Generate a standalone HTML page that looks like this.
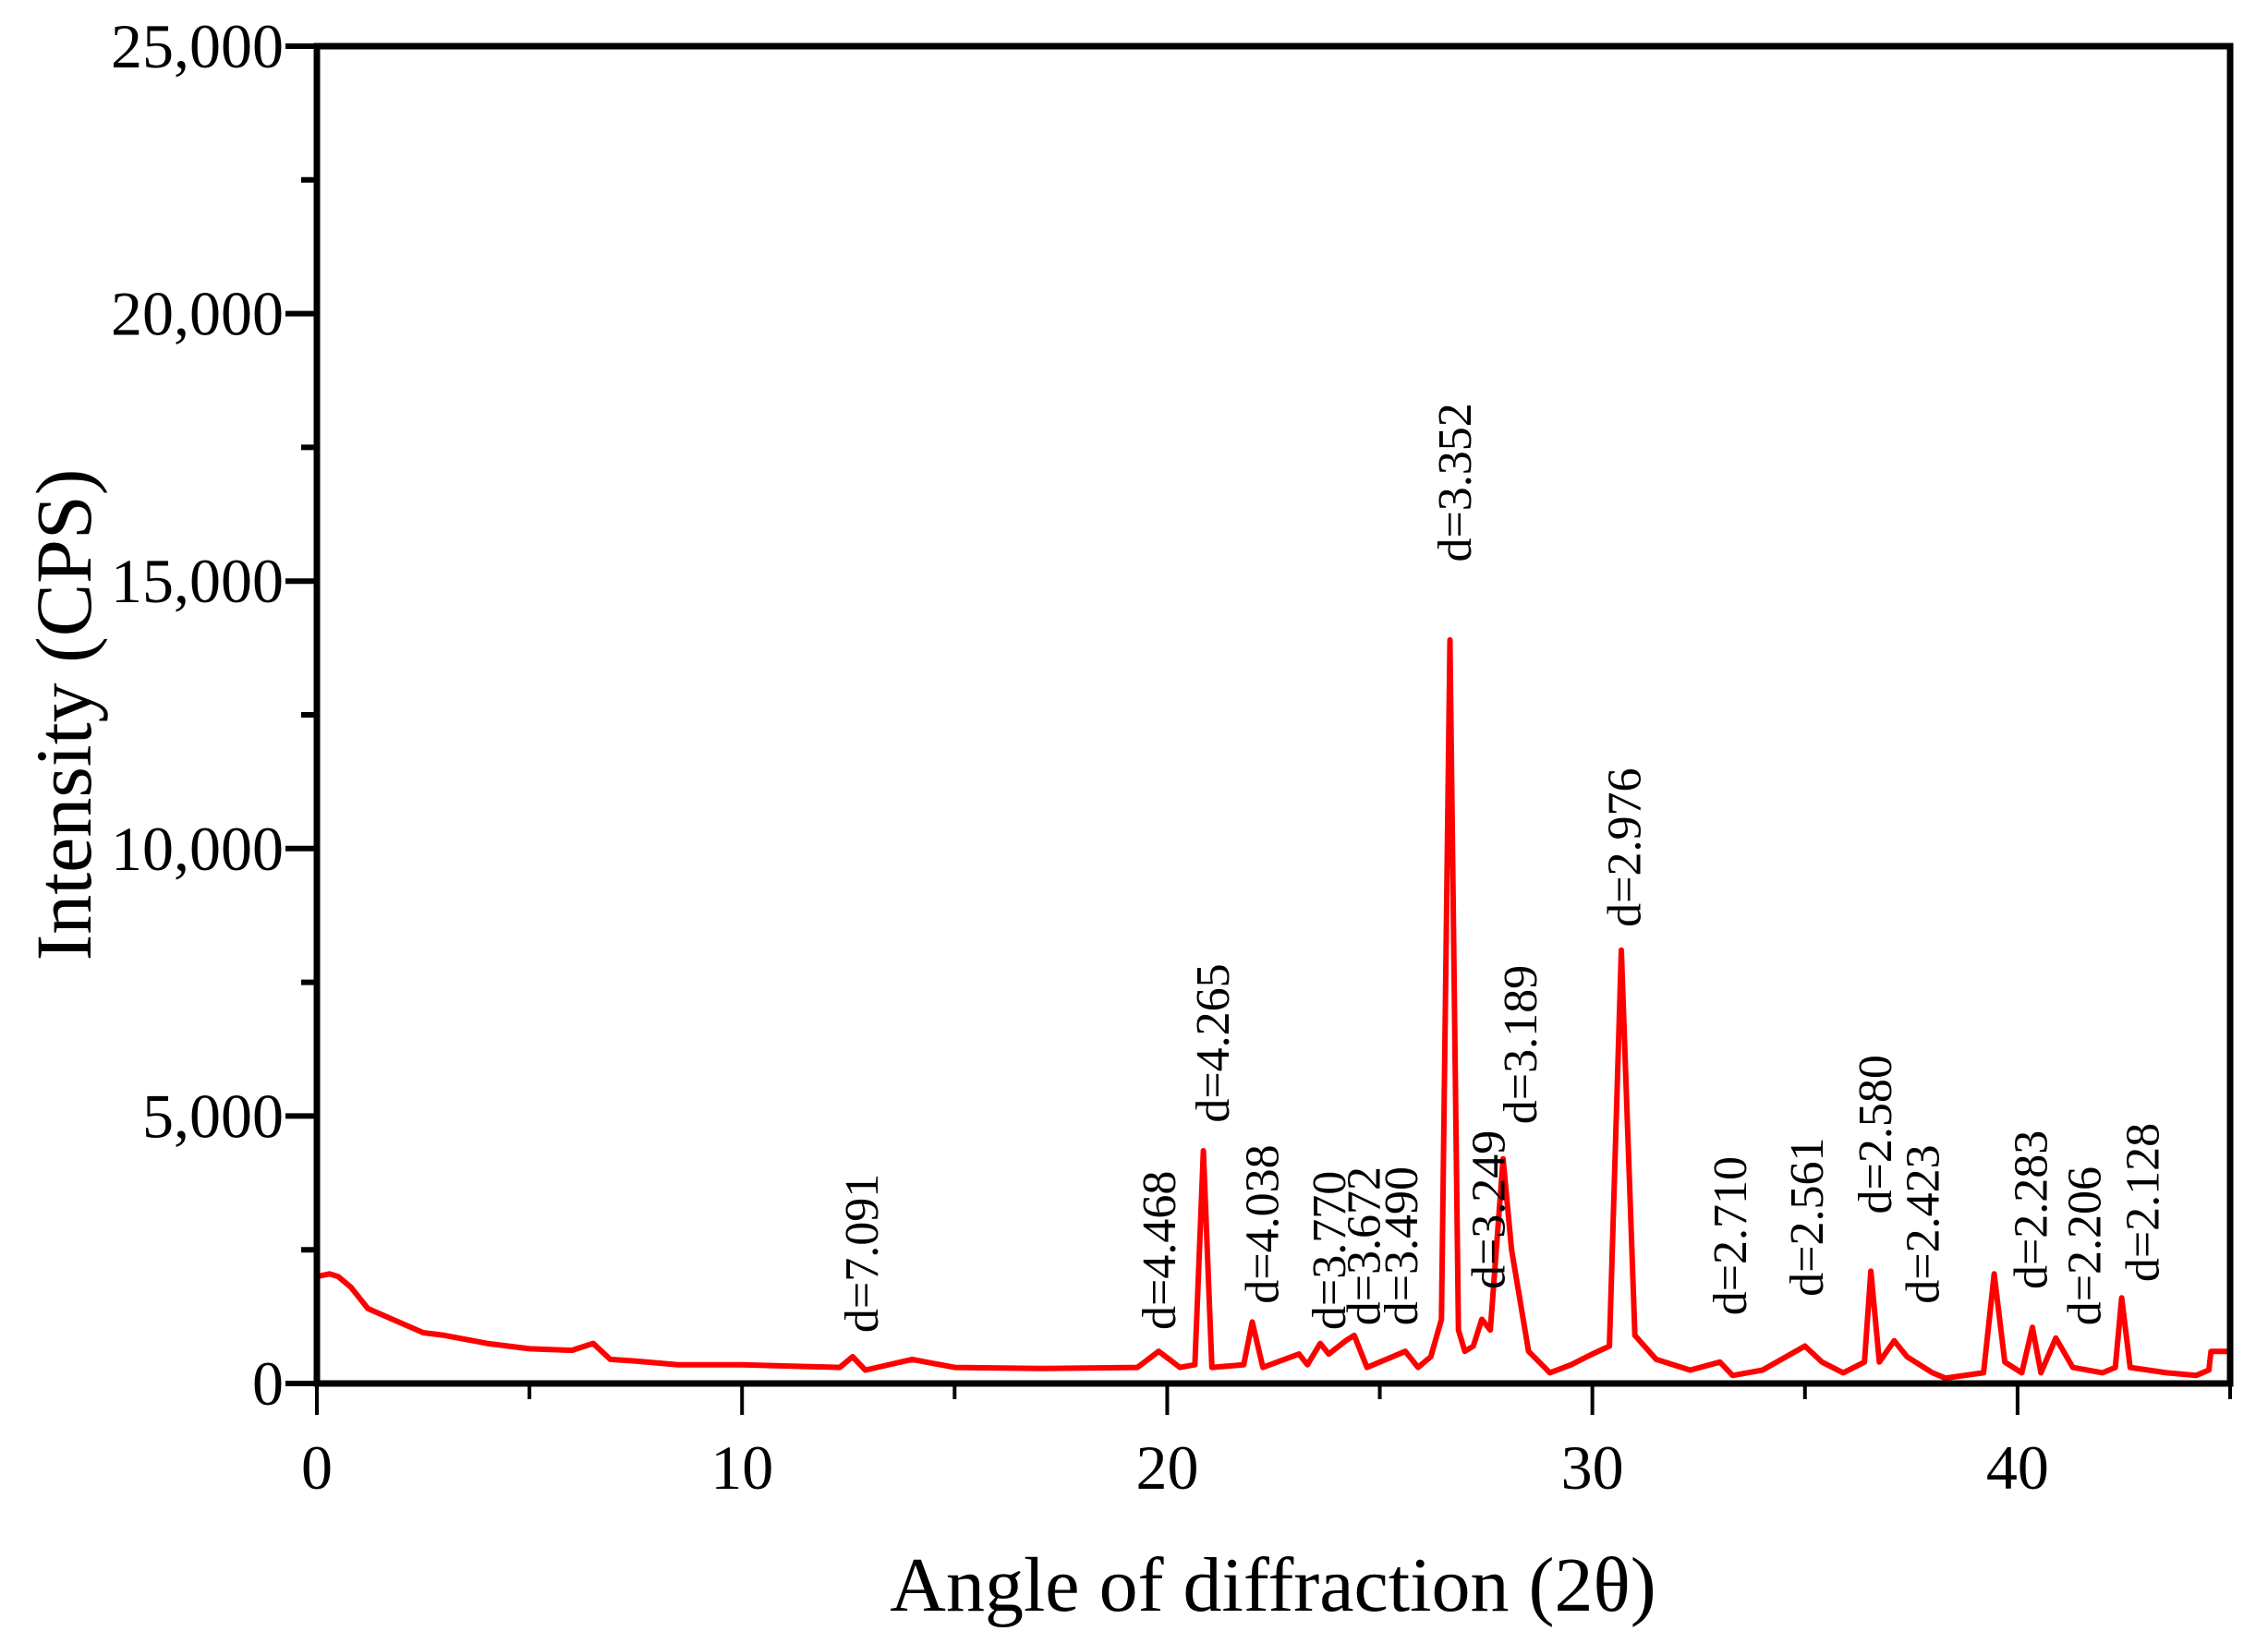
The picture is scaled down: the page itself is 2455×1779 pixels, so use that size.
<!DOCTYPE html>
<html><head><meta charset="utf-8"><style>
html,body{margin:0;padding:0;background:#fff;}
svg{display:block;font-family:"Liberation Serif",serif;}
</style></head><body>
<svg id="chart" width="2455" height="1779" viewBox="0 0 2455 1779" xmlns="http://www.w3.org/2000/svg">
</svg>
<script>
const angles = [0,0.3,0.5,0.8,1.2,2.5,3,4,5,6,6.5,6.9,7.5,8.5,10,12.3,12.6,12.9,14,15,17,19.3,19.8,20.3,20.65,20.85,21.05,21.8,22,22.25,23.1,23.3,23.6,23.8,24.2,24.4,24.7,25.6,25.9,26.2,26.45,26.65,26.85,27.0,27.2,27.4,27.6,27.9,28.1,28.5,29,29.5,30,30.4,30.68,31,31.5,32.3,33,33.3,34,35,35.4,35.9,36.4,36.55,36.75,37.1,37.4,38,38.3,39.2,39.45,39.7,40.1,40.35,40.55,40.9,41.3,42,42.3,42.45,42.65,43.5,44.2,44.5,44.55,45];
const intensities = [2000,2050,2000,1800,1400,950,900,750,650,620,750,450,420,350,350,300,500,250,450,300,280,300,600,300,350,4350,300,350,1150,300,550,350,750,550,800,900,300,600,300,500,1200,13900,1000,600,700,1200,1000,4200,2500,600,200,350,550,700,8100,900,450,250,400,150,250,700,400,200,400,2100,400,800,500,200,100,200,2050,400,200,1050,200,850,300,200,300,1600,300,200,150,250,600,600];
const labelTexts = ["d=7.091","d=4.468","d=4.265","d=4.038","d=3.770","d=3.672","d=3.490","d=3.352","d=3.249","d=3.189","d=2.976","d=2.710","d=2.561","d=2.580","d=2.423","d=2.283","d=2.206","d=2.128"];
const labelAngles = [12.80,19.79,21.06,22.22,23.79,24.61,25.49,26.75,27.54,28.29,30.74,33.22,35.03,36.63,37.75,40.30,41.56,42.92];
const labelIntensities = [948,1002,4875,1490,1000,1083,1083,15357,1760,4848,8532,1273,1625,3169,1490,1760,1083,1896];
const yTicks = [0,5000,10000,15000,20000,25000];
const yTickLabels = ["0","5,000","10,000","15,000","20,000","25,000"];
const xTicks = [0,10,20,30,40];
const xTickLabels = ["0","10","20","30","40"];

const L=343,R=2414,T=50,B=1498;
const xs=a=>L+(a/45)*(R-L);
const ys=v=>B-(v/25000)*(B-T);
const NS="http://www.w3.org/2000/svg";
const svg=document.getElementById('chart');
function mk(tag,attrs,parent){const e=document.createElementNS(NS,tag);for(const k in attrs)e.setAttribute(k,attrs[k]);(parent||svg).appendChild(e);return e;}

let d='';
for(let i=0;i<angles.length;i++){d+=(i?'L':'M')+xs(angles[i]).toFixed(1)+','+ys(intensities[i]).toFixed(1);}
const line=mk('path',{d:d,fill:'none',stroke:'#ff0000','stroke-width':6,'stroke-linejoin':'round'});



const frame=mk('rect',{x:L,y:T,width:R-L,height:B-T,fill:'none',stroke:'#000','stroke-width':7});



for(let v=0;v<=25000;v+=2500){
  const major=v%5000===0;
  const t=mk('line',{x1:L,x2:L-(major?34:17),y1:ys(v),y2:ys(v),stroke:'#000','stroke-width':6});
  
  
}
for(let i=0;i<yTicks.length;i++){
  const t=mk('text',{x:L-36,y:ys(yTicks[i])+23,'text-anchor':'end','font-size':68});
  t.textContent=yTickLabels[i];
  
  
}
for(let a=0;a<=45;a+=5){
  const major=a%10===0;
  const t=mk('line',{x1:xs(a),x2:xs(a),y1:B,y2:B+(major?34:17),stroke:'#000','stroke-width':4});
  
  
}
for(let i=0;i<xTicks.length;i++){
  const t=mk('text',{x:xs(xTicks[i]),y:1612,'text-anchor':'middle','font-size':68});
  t.textContent=xTickLabels[i];
  
  
}
for(let i=0;i<labelTexts.length;i++){
  const x=xs(labelAngles[i])+18,y=ys(labelIntensities[i]);
  const t=mk('text',{x:0,y:0,transform:`translate(${x},${y}) rotate(-90)`,'font-size':52});
  t.textContent=labelTexts[i];
  
  
}
const xt=mk('text',{x:1378,y:1744,'text-anchor':'middle','font-size':84});
xt.textContent='Angle of diffraction (2θ)';


const yt=mk('text',{x:0,y:0,transform:'translate(98,774) rotate(-90)','text-anchor':'middle','font-size':86});
yt.textContent='Intensity (CPS)';


</script>
</body></html>
